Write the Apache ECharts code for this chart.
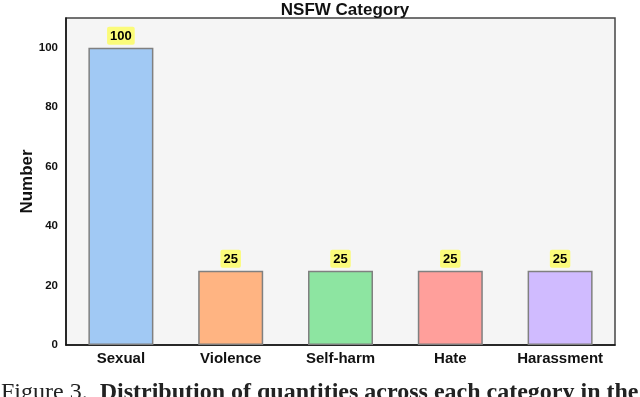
<!DOCTYPE html>
<html>
<head>
<meta charset="utf-8">
<script src="https://cdn.jsdelivr.net/npm/echarts@6/dist/echarts.min.js"></script>
<style>
  html, body { margin: 0; padding: 0; background: #fff; }
  #chart { width: 640px; height: 397px; }
</style>
</head>
<body>
<div id="chart"></div>
<script>
// data
const categories = ['Sexual', 'Violence', 'Self-harm', 'Hate', 'Harassment'];
const counts = [100, 25, 25, 25, 25];
const barColors = ['#A1C9F4', '#FFB482', '#8DE5A1', '#FF9F9B', '#D0BBFF'];
const yTicks = [0, 20, 40, 60, 80, 100];

const chart = echarts.init(document.getElementById('chart'));
const sans = '"Liberation Sans", Arial, sans-serif';
const serif = '"Liberation Serif", "Times New Roman", serif';

const option = {
  animation: false,
  backgroundColor: '#fff',
  title: {
    text: 'NSFW Category',
    left: 340,
    textAlign: 'center',
    top: -3,
    textStyle: { fontFamily: sans, fontWeight: 'bold', fontSize: 17, color: '#111' }
  },
  grid: {
    left: 66, right: 25, top: 18, bottom: 52,
    show: true,
    backgroundColor: '#F5F5F5',
    borderColor: '#444',
    borderWidth: 1.5
  },
  xAxis: {
    type: 'category',
    data: categories,
    axisLine: { lineStyle: { color: '#111', width: 1.5 } },
    axisTick: { show: false },
    axisLabel: {
      interval: 0,
      fontFamily: sans, fontWeight: 'bold', fontSize: 15, color: '#111', margin: 6
    }
  },
  yAxis: {
    type: 'value',
    min: 0, max: 110, interval: 20,
    name: 'Number',
    nameLocation: 'middle',
    nameGap: 30,
    nameMoveOverlap: false,
    nameTextStyle: { fontFamily: sans, fontWeight: 'bold', fontSize: 17, color: '#111' },
    axisLine: { show: true, lineStyle: { color: '#111', width: 1.5 } },
    axisTick: { show: false },
    splitLine: { show: false },
    axisLabel: {
      fontFamily: sans, fontWeight: 'bold', fontSize: 11.5, color: '#111', margin: 8,
      formatter: v => (yTicks.includes(v) ? String(v) : '')
    }
  },
  series: [{
    type: 'bar',
    barWidth: 65,
    data: counts.map((v, i) => ({
      value: v,
      itemStyle: { color: barColors[i], borderColor: '#808080', borderWidth: 1.5 }
    })),
    label: {
      show: true,
      position: 'top',
      distance: 3,
      fontFamily: sans, fontWeight: 'bold', fontSize: 13, color: '#000',
      backgroundColor: '#FBFB7A',
      borderRadius: 2,
      padding: [3, 3, 2, 3]
    }
  }],
  graphic: [{
    type: 'text',
    left: 1,
    top: 381,
    style: {
      text: '{n|Figure 3.  }{b|Distribution of quantities across each category in the}',
      rich: {
        n: { fontFamily: serif, fontSize: 24, fill: '#222' },
        b: { fontFamily: serif, fontSize: 24, fontWeight: 'bold', fill: '#222' }
      }
    }
  }]
};
chart.setOption(option);
</script>
</body>
</html>
